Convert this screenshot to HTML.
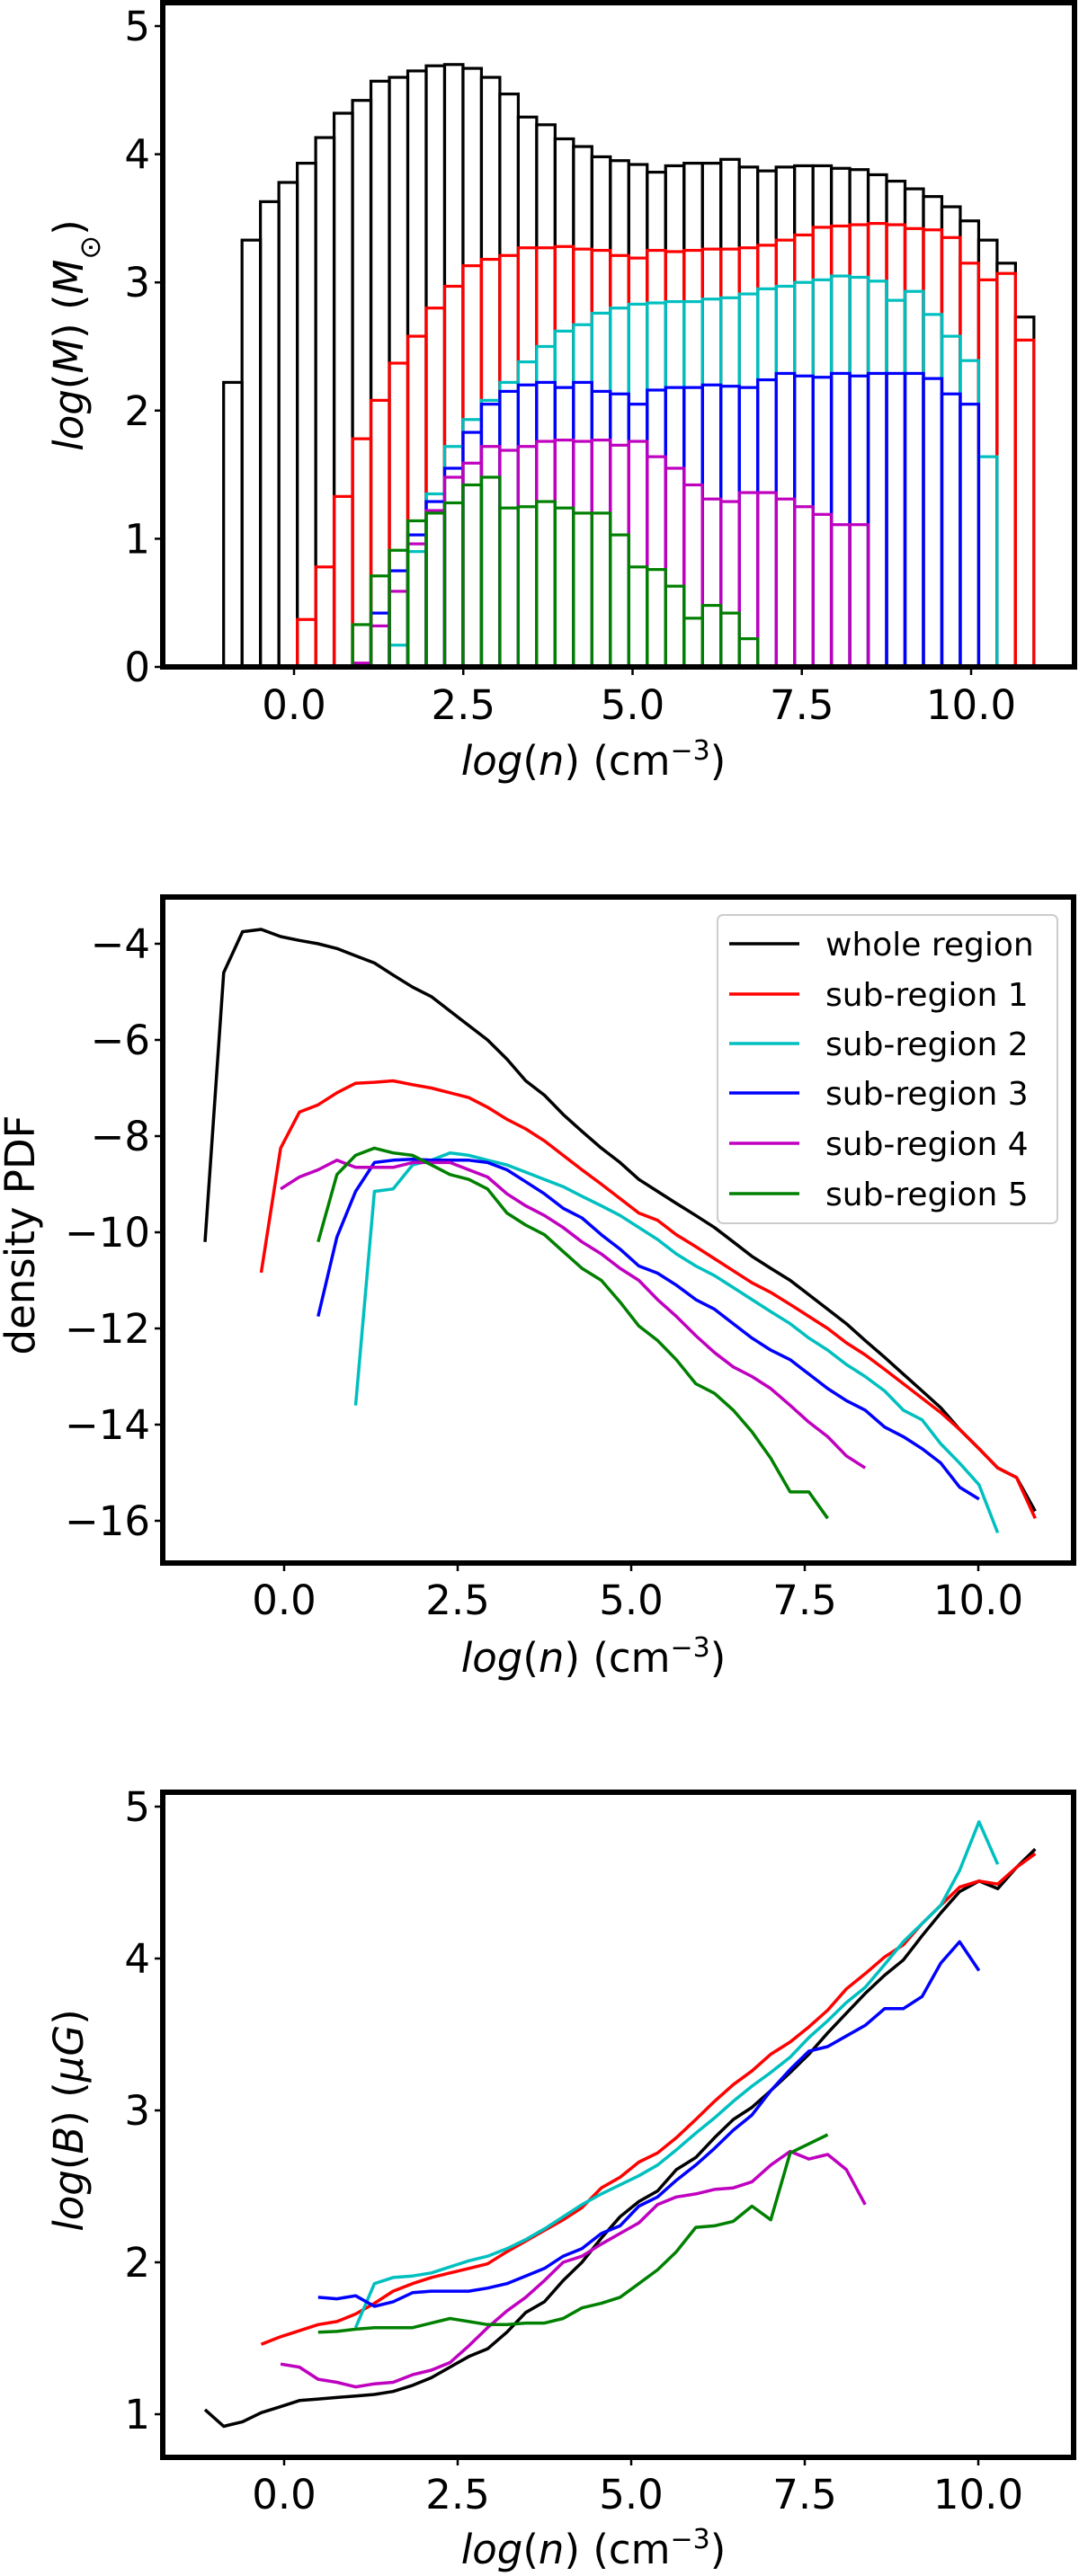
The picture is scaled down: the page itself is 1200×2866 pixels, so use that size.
<!DOCTYPE html>
<html><head><meta charset="utf-8"><style>
html,body{margin:0;padding:0;background:#fff}
svg{display:block}
text{font-family:"DejaVu Sans","Liberation Sans",sans-serif;fill:#000}
</style></head><body>
<svg id="fig" width="1200" height="2866" viewBox="0 0 1200 2866" xmlns="http://www.w3.org/2000/svg"></svg>
<script>
// ---------- Panel 1: histogram data (log M) ----------
const histStart = -1.04;
const histWidth = 0.272;
const histBlackStart = 0;
const histBlack = [2.22,3.33,3.63,3.78,3.93,4.13,4.32,4.42,4.57,4.60,4.65,4.69,4.70,4.67,4.60,4.47,4.29,4.23,4.12,4.06,3.98,3.95,3.92,3.86,3.91,3.93,3.93,3.96,3.90,3.87,3.90,3.91,3.91,3.89,3.88,3.84,3.79,3.73,3.67,3.59,3.48,3.33,3.15,2.73];
const histRedStart = 4;
const histRed = [0.37,0.78,1.33,1.78,2.08,2.37,2.58,2.80,2.97,3.13,3.18,3.21,3.27,3.27,3.28,3.26,3.25,3.21,3.19,3.25,3.24,3.25,3.26,3.26,3.27,3.29,3.33,3.37,3.43,3.44,3.45,3.46,3.45,3.42,3.41,3.35,3.15,3.02,3.07,2.55];
const histCyanStart = 9;
const histCyan = [0.17,0.9,1.35,1.72,1.93,2.08,2.22,2.38,2.50,2.62,2.67,2.76,2.80,2.83,2.84,2.85,2.85,2.87,2.88,2.91,2.95,2.97,3.00,3.02,3.05,3.04,3.01,2.86,2.93,2.75,2.58,2.39,1.64];
const histBlueStart = 8;
const histBlue = [0.42,0.75,1.03,1.29,1.55,1.83,2.05,2.15,2.20,2.22,2.18,2.22,2.15,2.13,2.05,2.16,2.18,2.18,2.20,2.19,2.18,2.24,2.29,2.27,2.26,2.29,2.27,2.29,2.29,2.29,2.25,2.13,2.05];
const histMagentaStart = 7;
const histMagenta = [0.03,0.32,0.59,0.96,1.22,1.48,1.59,1.72,1.69,1.72,1.76,1.77,1.76,1.77,1.73,1.76,1.64,1.55,1.42,1.31,1.29,1.36,1.36,1.31,1.25,1.19,1.11,1.11];
const histGreenStart = 7;
const histGreen = [0.33,0.71,0.91,1.14,1.20,1.28,1.42,1.48,1.24,1.25,1.29,1.24,1.20,1.20,1.03,0.78,0.76,0.63,0.38,0.48,0.42,0.22];
const p1XTicks = [0, 2.5, 5, 7.5, 10];
const p1XTickLabels = ["0.0","2.5","5.0","7.5","10.0"];
const p1YTicks = [0,1,2,3,4,5];
const p1YTickLabels = ["0","1","2","3","4","5"];

// ---------- shared density grid ----------
const nGrid = [-1.14,-0.87,-0.60,-0.33,-0.05,0.22,0.49,0.76,1.03,1.30,1.57,1.85,2.12,2.39,2.66,2.93,3.21,3.48,3.75,4.02,4.29,4.57,4.84,5.11,5.38,5.65,5.93,6.20,6.47,6.74,7.01,7.29,7.56,7.83,8.10,8.37,8.65,8.92,9.19,9.46,9.73,10.01,10.28,10.55,10.82];
const seriesNames = ["whole region","sub-region 1","sub-region 2","sub-region 3","sub-region 4","sub-region 5"];
const seriesStart = [0,3,8,6,4,6];

// ---------- Panel 2: density PDF ----------
const pdfBlack = [-10.2,-4.6,-3.75,-3.7,-3.85,-3.93,-4.0,-4.1,-4.25,-4.4,-4.65,-4.9,-5.1,-5.4,-5.7,-6.0,-6.4,-6.85,-7.15,-7.55,-7.9,-8.25,-8.55,-8.9,-9.15,-9.4,-9.65,-9.9,-10.2,-10.5,-10.75,-11.0,-11.3,-11.6,-11.9,-12.25,-12.6,-12.95,-13.3,-13.65,-14.1,-14.5,-14.9,-15.1,-15.8];
const pdfRed = [-10.84,-8.25,-7.5,-7.35,-7.1,-6.9,-6.88,-6.85,-6.93,-7.0,-7.1,-7.2,-7.4,-7.65,-7.85,-8.1,-8.4,-8.7,-9.0,-9.3,-9.6,-9.75,-10.05,-10.3,-10.55,-10.8,-11.05,-11.25,-11.5,-11.75,-12.0,-12.3,-12.55,-12.85,-13.15,-13.45,-13.75,-14.1,-14.5,-14.9,-15.1,-15.95];
const pdfCyan = [-13.6,-9.15,-9.1,-8.6,-8.5,-8.35,-8.4,-8.5,-8.6,-8.75,-8.9,-9.05,-9.25,-9.45,-9.65,-9.9,-10.15,-10.45,-10.7,-10.9,-11.15,-11.4,-11.65,-11.9,-12.2,-12.45,-12.75,-13.0,-13.3,-13.7,-13.9,-14.4,-14.8,-15.25,-16.25];
const pdfBlue = [-11.75,-10.1,-9.15,-8.55,-8.5,-8.48,-8.5,-8.5,-8.5,-8.55,-8.7,-8.95,-9.2,-9.5,-9.7,-10.05,-10.35,-10.7,-10.85,-11.1,-11.4,-11.6,-11.9,-12.2,-12.45,-12.65,-12.95,-13.25,-13.5,-13.7,-14.05,-14.25,-14.5,-14.8,-15.3,-15.55];
const pdfMagenta = [-9.1,-8.85,-8.7,-8.5,-8.65,-8.65,-8.65,-8.55,-8.55,-8.55,-8.7,-8.85,-9.2,-9.45,-9.65,-9.9,-10.2,-10.45,-10.75,-11.0,-11.4,-11.75,-12.15,-12.5,-12.8,-13.0,-13.25,-13.6,-13.95,-14.25,-14.65,-14.9];
const pdfGreen = [-10.2,-8.8,-8.4,-8.25,-8.35,-8.4,-8.6,-8.8,-8.9,-9.1,-9.6,-9.85,-10.05,-10.4,-10.75,-11.0,-11.45,-11.95,-12.25,-12.65,-13.15,-13.35,-13.7,-14.15,-14.7,-15.4,-15.4,-15.95];
const p2YTicks = [-4,-6,-8,-10,-12,-14,-16];
const p2YTickLabels = ["\u22124","\u22126","\u22128","\u221210","\u221212","\u221214","\u221216"];

// ---------- Panel 3: log B ----------
const bBlack = [1.03,0.92,0.95,1.01,1.05,1.09,1.10,1.11,1.12,1.13,1.15,1.19,1.24,1.31,1.38,1.43,1.54,1.67,1.74,1.88,2.00,2.16,2.30,2.40,2.47,2.61,2.69,2.82,2.94,3.02,3.13,3.25,3.37,3.51,3.64,3.77,3.89,3.99,4.15,4.30,4.44,4.51,4.46,4.60,4.72];
const bRed = [1.46,1.51,1.55,1.59,1.61,1.66,1.73,1.81,1.86,1.90,1.93,1.96,1.99,2.07,2.14,2.21,2.28,2.36,2.49,2.56,2.66,2.72,2.82,2.94,3.06,3.17,3.26,3.37,3.45,3.55,3.66,3.80,3.90,4.01,4.09,4.23,4.35,4.47,4.51,4.49,4.60,4.69];
const bCyan = [1.57,1.86,1.90,1.91,1.93,1.97,2.01,2.04,2.09,2.15,2.22,2.30,2.38,2.45,2.51,2.57,2.64,2.74,2.85,2.95,3.06,3.16,3.25,3.35,3.48,3.59,3.71,3.81,3.96,4.11,4.23,4.35,4.58,4.90,4.62];
const bBlue = [1.77,1.76,1.78,1.71,1.74,1.80,1.81,1.81,1.81,1.83,1.86,1.91,1.96,2.04,2.09,2.19,2.24,2.37,2.43,2.54,2.64,2.75,2.87,2.97,3.13,3.27,3.39,3.42,3.49,3.56,3.67,3.67,3.75,3.97,4.11,3.92];
const bMagenta = [1.33,1.31,1.23,1.21,1.18,1.20,1.21,1.26,1.29,1.34,1.45,1.57,1.68,1.77,1.88,2.00,2.04,2.12,2.19,2.26,2.38,2.43,2.45,2.48,2.49,2.53,2.64,2.73,2.68,2.71,2.61,2.38];
const bGreen = [1.54,1.545,1.56,1.57,1.57,1.57,1.60,1.63,1.61,1.59,1.59,1.60,1.60,1.63,1.70,1.73,1.77,1.86,1.95,2.07,2.23,2.24,2.27,2.37,2.28,2.72,2.78,2.84];
const p3YTicks = [1,2,3,4,5];
const p3YTickLabels = ["1","2","3","4","5"];

const COLORS = ["#000000","#ff0000","#00bfbf","#0000ff","#bf00bf","#008000"];
const NS = "http://www.w3.org/2000/svg";
const svg = document.getElementById("fig");
function mk(tag, attrs, parent){
  const e = document.createElementNS(NS, tag);
  for (const k in attrs) e.setAttribute(k, attrs[k]);
  (parent||svg).appendChild(e);
  return e;
}
function lin(d0,d1,p0,p1){ return v => p0 + (v-d0)*(p1-p0)/(d1-d0); }

function axesFrame(g, box, sx, sy, xt, xtl, yt, ytl, tickY, pname){
  xt.forEach((v,i)=>{
    const x = sx(v);
    const t = mk("line",{x1:x,x2:x,y1:box.b,y2:box.b+9,stroke:"#000","stroke-width":2.5},g);
    
    
    const l = mk("text",{x:x,y:tickY,"font-size":45,"text-anchor":"middle"},g);
    l.textContent = xtl[i];
    
    
  });
  yt.forEach((v,i)=>{
    const y = sy(v);
    const t = mk("line",{x1:box.l-9,x2:box.l,y1:y,y2:y,stroke:"#000","stroke-width":2.5},g);
    
    
    const l = mk("text",{x:box.l-14,y:y+16,"font-size":45,"text-anchor":"end"},g);
    l.textContent = ytl[i];
    
    
  });
}
function frameRect(g, box, pname){
  const r = mk("rect",{x:box.l,y:box.t,width:box.r-box.l,height:box.b-box.t,fill:"none",stroke:"#000","stroke-width":6},g);
  
  
}
function xLabel(g, cx, y, pname){
  const t = mk("text",{x:cx,y:y,"font-size":45,"text-anchor":"middle"},g);
  t.innerHTML = '<tspan font-style="italic">log</tspan>(<tspan font-style="italic">n</tspan>) (cm<tspan baseline-shift="super" font-size="30">\u22123</tspan>)';
  
  
}
function yLabel(g, cx, cy, html, pname){
  const t = mk("text",{x:0,y:0,"font-size":45,"text-anchor":"middle",transform:`translate(${cx},${cy}) rotate(-90)`},g);
  t.innerHTML = html;
  
  
}
function drawLines(g, sx, sy, seriesList, pname){
  seriesList.forEach((vals,si)=>{
    const st = seriesStart[si];
    const pts = vals.map((v,k)=> sx(nGrid[st+k]).toFixed(1)+","+sy(v).toFixed(1)).join(" ");
    const pl = mk("polyline",{points:pts,fill:"none",stroke:COLORS[si],"stroke-width":3.5,"stroke-linejoin":"round"},g);
    
    
  });
}

// ===== Panel 1 =====
(function(){
  const g = mk("g",{});
  
  
  const box = {l:181,r:1195,t:3,b:742};
  const sx = lin(0,10,327,1080);
  const sy = lin(0,5,742,29);
  const hs = [[histBlack,histBlackStart],[histRed,histRedStart],[histCyan,histCyanStart],[histBlue,histBlueStart],[histMagenta,histMagentaStart],[histGreen,histGreenStart]];
  hs.forEach(([vals,st],si)=>{
    vals.forEach((v,k)=>{
      const x0 = sx(histStart + (st+k)*histWidth), x1 = sx(histStart + (st+k+1)*histWidth);
      const r = mk("rect",{x:x0,y:sy(v),width:x1-x0,height:sy(0)-sy(v),fill:"none",stroke:COLORS[si],"stroke-width":3.2},g);
      
      
    });
  });
  frameRect(g, box, 'mass-histogram');
  axesFrame(g, box, sx, sy, p1XTicks, p1XTickLabels, p1YTicks, p1YTickLabels, 800, 'mass-histogram');
  xLabel(g, 660, 862, 'mass-histogram');
  yLabel(g, 92, 373, '<tspan font-style="italic">log</tspan>(<tspan font-style="italic">M</tspan>) (<tspan font-style="italic">M</tspan><tspan baseline-shift="sub" font-size="32">\u2299</tspan>)', 'mass-histogram');
})();

// ===== Panel 2 =====
(function(){
  const g = mk("g",{});
  
  
  const box = {l:181,r:1194,t:998,b:1739};
  const sx = lin(0,10,316,1088);
  const sy = lin(-4,-16,1050,1692);
  drawLines(g, sx, sy, [pdfBlack,pdfRed,pdfCyan,pdfBlue,pdfMagenta,pdfGreen], 'density-pdf');
  frameRect(g, box, 'density-pdf');
  axesFrame(g, box, sx, sy, p1XTicks, p1XTickLabels, p2YTicks, p2YTickLabels, 1796, 'density-pdf');
  xLabel(g, 660, 1860, 'density-pdf');
  yLabel(g, 38, 1374, 'density PDF', 'density-pdf');
  const lg = mk("g",{},g);
  
  
  const lr = mk("rect",{x:798,y:1018,width:378,height:343,rx:6,fill:"#fff","fill-opacity":0.85,stroke:"#cccccc","stroke-width":2},lg);
  
  
  const ly = [1050,1106,1161,1216,1272,1328];
  seriesNames.forEach((n,i)=>{
    const ln = mk("line",{x1:811,x2:889,y1:ly[i],y2:ly[i],stroke:COLORS[i],"stroke-width":3.5},lg);
    
    
    const t = mk("text",{x:918,y:ly[i]+13,"font-size":36},lg);
    t.textContent = n;
    
    
  });
})();

// ===== Panel 3 =====
(function(){
  const g = mk("g",{});
  
  
  const box = {l:181,r:1194,t:1994,b:2734};
  const sx = lin(0,10,316,1088);
  const sy = lin(1,5,2686,2010);
  drawLines(g, sx, sy, [bBlack,bRed,bCyan,bBlue,bMagenta,bGreen], 'magnetic-field');
  frameRect(g, box, 'magnetic-field');
  axesFrame(g, box, sx, sy, p1XTicks, p1XTickLabels, p3YTicks, p3YTickLabels, 2791, 'magnetic-field');
  xLabel(g, 660, 2852, 'magnetic-field');
  yLabel(g, 92, 2359, '<tspan font-style="italic">log</tspan>(<tspan font-style="italic">B</tspan>) (<tspan font-style="italic">\u03bcG</tspan>)', 'magnetic-field');
})();
</script>
</body></html>
